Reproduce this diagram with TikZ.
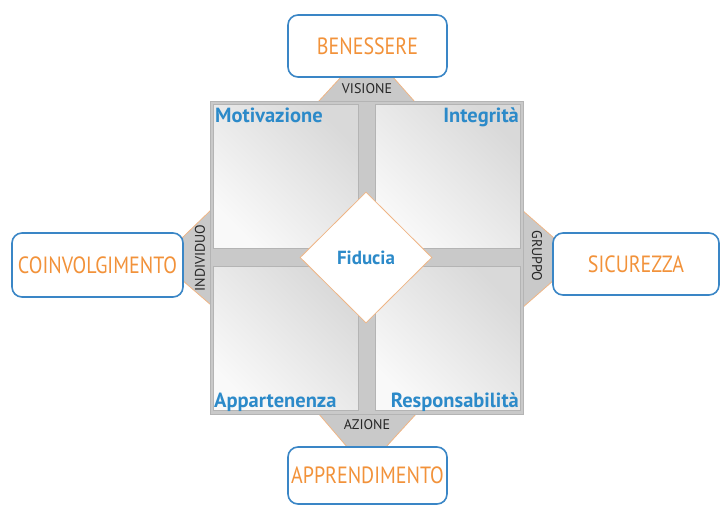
\documentclass[tikz,border=0pt]{standalone}
\usepackage{fontspec}
\setmainfont{PT Sans}
\newfontfamily\condfont{PT Sans}[FakeStretch=0.85]
\usetikzlibrary{shapes.geometric}
\definecolor{boxblue}{HTML}{3A86C6}
\definecolor{lblorange}{HTML}{F2923A}
\definecolor{qblue}{HTML}{2C8AC9}
\definecolor{bargray}{HTML}{C9C9C9}
\definecolor{gridline}{HTML}{B4B4B4}
\definecolor{traporange}{HTML}{EFB585}
\definecolor{quaddark}{HTML}{D9D9D9}
\definecolor{quadlight}{HTML}{F9F9F9}
\begin{document}
\begin{tikzpicture}[x=1pt,y=-1pt,
  outerbox/.style={draw=boxblue, line width=1.6pt, rounded corners=10pt, fill=white,
    text=lblorange, font=\condfont\fontsize{23.5}{23.5}\selectfont, inner sep=0pt},
  quad/.style={draw=gridline, line width=0.6pt, left color=quaddark, right color=quadlight,
    shading angle=-45, minimum width=145pt, minimum height=144pt, inner sep=0pt},
  qlabel/.style={text=qblue, font=\bfseries\fontsize{20.5}{20.5}\selectfont, inner sep=0pt},
  small/.style={font=\fontsize{14}{14}\selectfont, inner sep=0pt, text=black!85},
  trapfill/.style={fill=bargray},
  trapedge/.style={draw=traporange, line width=0.8pt}
]
\useasboundingbox (0,0) rectangle (721,507);

% connector trapezoids
\coordinate (t1) at (342,76); \coordinate (t2) at (392,76);
\coordinate (t3) at (415,102); \coordinate (t4) at (318,102);
\fill[trapfill] (t1) -- (t2) -- (t3) -- (t4) -- cycle;
\draw[trapedge] (t1) -- (t4); \draw[trapedge] (t2) -- (t3);

\coordinate (b1) at (318,413); \coordinate (b2) at (417,413);
\coordinate (b3) at (385,448); \coordinate (b4) at (348,448);
\fill[trapfill] (b1) -- (b2) -- (b3) -- (b4) -- cycle;
\draw[trapedge] (b1) -- (b4); \draw[trapedge] (b2) -- (b3);

\coordinate (l1) at (182,238); \coordinate (l2) at (211,210);
\coordinate (l3) at (211,305); \coordinate (l4) at (182,280);
\fill[trapfill] (l1) -- (l2) -- (l3) -- (l4) -- cycle;
\draw[trapedge] (l1) -- (l2); \draw[trapedge] (l4) -- (l3);

\coordinate (r1) at (522,210); \coordinate (r2) at (554,238);
\coordinate (r3) at (554,280); \coordinate (r4) at (522,308);
\fill[trapfill] (r1) -- (r2) -- (r3) -- (r4) -- cycle;
\draw[trapedge] (r1) -- (r2); \draw[trapedge] (r4) -- (r3);

% grid
\node[draw=gridline, fill=bargray, line width=0.6pt, minimum width=313pt, minimum height=313pt, inner sep=0pt] (grid) at (366.5,257.5) {};
\node[quad] (tl) at (285.5,176) {};
\node[quad] (tr) at (447.5,176) {};
\node[quad] (bl) at (285.5,338.5) {};
\node[quad] (br) at (447.5,338.5) {};

% diamond
\node[diamond, draw=traporange, line width=0.8pt, fill=white, minimum width=132pt, minimum height=131pt, inner sep=0pt,
  text=qblue, font=\bfseries\fontsize{19}{19}\selectfont] (fid) at (366,257.5) {Fiducia};

% outer boxes
\node[outerbox, minimum width=159pt, minimum height=62pt] (ben) at (367.5,46) {BENESSERE};
\node[outerbox, minimum width=159pt, minimum height=57pt] (app) at (367.5,475.5) {APPRENDIMENTO};
\node[outerbox, minimum width=171pt, minimum height=64pt] (coi) at (97.5,265) {COINVOLGIMENTO};
\node[outerbox, minimum width=166pt, minimum height=62pt] (sic) at (636,264) {SICUREZZA};

% quadrant labels
\node[qlabel, anchor=base west] (mot) at (215,122) {Motivazione};
\node[qlabel, anchor=base east] (int) at (519,122) {Integrità};
\node[qlabel, anchor=base west] (apt) at (214,407) {Appartenenza};
\node[qlabel, anchor=base east] (res) at (519,407) {Responsabilità};

% small labels
\node[small] (vis) at (367,89) {VISIONE};
\node[small] (azi) at (367,425) {AZIONE};
\node[small, rotate=90] (ind) at (200,258) {INDIVIDUO};
\node[small, rotate=-90] (gru) at (537,256) {GRUPPO};
\end{tikzpicture}
\end{document}
